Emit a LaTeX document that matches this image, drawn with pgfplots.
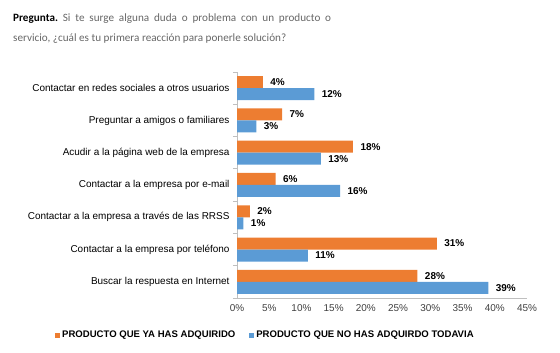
\documentclass[border=0pt]{standalone}
\usepackage{pgfplots}
\pgfplotsset{compat=1.18}
\usepackage{fontspec}
\setmainfont{Liberation Sans}
\newfontfamily\carlito{Carlito}
\definecolor{corange}{HTML}{ED7D31}
\definecolor{cblue}{HTML}{5B9BD5}
\definecolor{axgray}{HTML}{BFBFBF}
\definecolor{titlegray}{HTML}{666666}
\definecolor{ticktext}{HTML}{404040}
\begin{document}
\frenchspacing
\begin{tikzpicture}
\path[use as bounding box] (0,0) rectangle (560bp,353bp);
\node[anchor=base west, inner sep=0pt, text=titlegray] at (13bp,331bp)
  {\carlito\fontsize{11.2}{13}\selectfont\makebox[318bp][s]{\textcolor{black}{\textbf{Pregunta.}} Si te surge alguna duda o problema con un producto o}};
\node[anchor=base west, inner sep=0pt, text=titlegray] at (13bp,311bp)
  {\carlito\fontsize{11.2}{13}\selectfont servicio, ¿cuál es tu primera reacción para ponerle solución?};
\begin{axis}[
  at={(237bp,55bp)}, anchor=south west,
  width=290bp, height=226bp, scale only axis,
  xbar, bar width=12bp,
  xmin=0, xmax=45, ymin=-0.5, ymax=6.5,
  xtick={0,5,...,45},
  xticklabels={0\%,5\%,10\%,15\%,20\%,25\%,30\%,35\%,40\%,45\%},
  ytick={0,...,6},
  yticklabels={Buscar la respuesta en Internet,Contactar a la empresa por teléfono,Contactar a la empresa a través de las RRSS,Contactar a la empresa por e-mail,Acudir a la página web de la empresa,Preguntar a amigos o familiares,Contactar en redes sociales a otros usuarios},
  minor ytick={-0.5,0.5,...,6.5},
  axis x line*=bottom, axis y line*=left,
  axis line style={axgray, line width=0.8bp},
  every tick/.style={axgray, line width=0.8bp},
  major tick length=0pt, minor tick length=4bp, tick align=outside,
  xtick style={draw=none},
  /pgf/number format/assume math mode=true,
  tick label style={font=\fontsize{10}{11}\selectfont},
  x tick label style={text=ticktext, yshift=-3bp},
  y tick label style={text=black, xshift=-4bp},
  nodes near coords={\pgfmathprintnumber{\pgfplotspointmeta}\%},
  nodes near coords style={font=\bfseries\fontsize{10}{11}\selectfont, text=black, anchor=west, xshift=4bp},
  point meta=explicit symbolic,
  legend style={at={(0.098,-0.165)}, anchor=center, draw=none, fill=none,
    legend columns=2, font=\bfseries\fontsize{9.6}{11}\selectfont,
    /tikz/every even column/.append style={column sep=12bp}},
  legend image code/.code={\fill[#1] (0bp,-2.5bp) rectangle (5bp,2.5bp);},
]
\addplot[fill=corange, draw=none, bar shift=6bp] coordinates {
  (28,0) [28] (31,1) [31] (2,2) [2] (6,3) [6] (18,4) [18] (7,5) [7] (4,6) [4]};
\addplot[fill=cblue, draw=none, bar shift=-6bp] coordinates {
  (39,0) [39] (11,1) [11] (1,2) [1] (16,3) [16] (13,4) [13] (3,5) [3] (12,6) [12]};
\legend{PRODUCTO QUE YA HAS ADQUIRIDO, PRODUCTO QUE NO HAS ADQUIRDO TODAVIA}
\end{axis}
\end{tikzpicture}
\end{document}
